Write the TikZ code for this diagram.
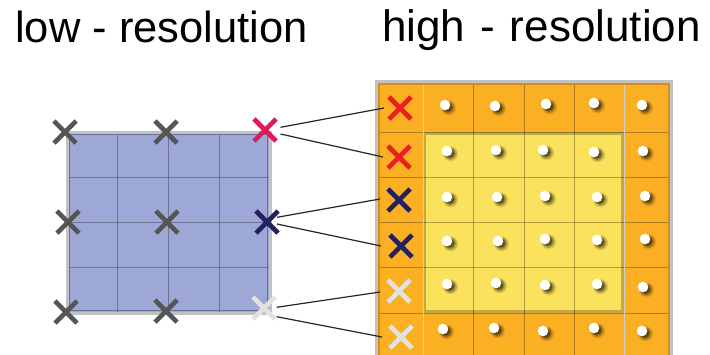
\documentclass[tikz,border=0pt]{standalone}
\usepackage{fontspec}
\setmainfont{Liberation Sans}
\usetikzlibrary{shapes.misc,calc}
\definecolor{lowblue}{HTML}{9DA8D6}
\definecolor{lowedge}{HTML}{66709A}
\definecolor{frameg}{HTML}{C2C2C2}
\definecolor{orangeA}{HTML}{FBB023}
\definecolor{orangeD}{HTML}{D38D1A}
\definecolor{yellowA}{HTML}{FAE25C}
\definecolor{yellowD}{HTML}{C3A845}
\definecolor{xgray}{HTML}{555555}
\definecolor{xcrimson}{HTML}{DC1C5A}
\definecolor{xred}{HTML}{EE1C25}
\definecolor{xnavy}{HTML}{24215F}
\definecolor{xlight}{HTML}{E2E2E2}
\definecolor{shad}{HTML}{2A2008}
\begin{document}
\begin{tikzpicture}[x=1pt,y=-1pt,
  xmark/.style={cross out, draw=#1, line width=4.6pt, minimum size=17.5pt, inner sep=0pt},
  link/.style={draw=black!85, line width=1.2pt},
  title/.style={anchor=base west, inner sep=0pt, font=\fontsize{44}{50}\selectfont},
  gridln/.style={draw=black, draw opacity=0.3, line width=0.8pt}]
\clip (0,0) rectangle (710,354);
\fill[white] (0,0) rectangle (710,354);

% titles
\node[title, font=\fontsize{43.5}{50}\selectfont] (tlow) at (15,42) {low - resolution};
\node[title] (thigh) at (382,41) {high\kern15pt-\kern15pt resolution};

% ---------- low resolution square
\fill[lowblue] (67,132) rectangle (270,313);
\foreach \x in {117.75,168.5,219.25} \draw[gridln] (\x,132) -- (\x,313);
\foreach \y in {177.25,222.5,267.75} \draw[gridln] (67,\y) -- (270,\y);
\draw[frameg, line width=3pt] (67,132) rectangle (270,313);
\draw[lowedge, line width=1.6pt] (69.5,134.5) rectangle (267.5,310.5);

\node[xmark=xgray] (l11) at (65,132) {};
\node[xmark=xgray] (l12) at (166,132) {};
\node[xmark=xcrimson] (l13) at (265,130) {};
\node[xmark=xgray] (l21) at (68,222) {};
\node[xmark=xgray] (l22) at (167,222) {};
\node[xmark=xnavy] (l23) at (267,222) {};
\node[xmark=xgray] (l31) at (66,312) {};
\node[xmark=xgray] (l32) at (166,311) {};
\node[xmark=xlight] (l33) at (264,308) {};

% ---------- high resolution grid
\fill[orangeA] (375,81) rectangle (673,370);
\fill[yellowA] (423,132) rectangle (624,313);
\draw[yellowD, line width=3pt] (424.5,133.5) rectangle (622.5,311.5);
\foreach \x in {473,524,574} \draw[gridln] (\x,82) -- (\x,360);
\foreach \y in {132,177,222,267,313} \draw[gridln] (375,\y) -- (673,\y);
\foreach \x in {423,624} \draw[frameg!80!white, line width=1pt] (\x,82) -- (\x,360);
\draw[frameg, line width=3pt] (376,81.5) rectangle (671.5,370);
\draw[orangeD, line width=2pt] (378.5,84) rectangle (669,370);

% dots with soft shadows
\foreach \px/\py in {
  445/105, 495/106, 546/104, 594/103, 642/105,
  447/151, 496/150, 543/150, 594/152, 643/151,
  447/197, 497/197, 545/196, 597/197, 645/196,
  447/241, 498/241, 545/239, 597/240, 645/239,
  447/284, 496/283, 545/285, 597/284, 643/287,
  443/329, 494/328, 543/331, 594/328, 642/331}{
  \fill[shad, opacity=0.12] (\px+3.6,\py+2.8) circle (7.6);
  \fill[shad, opacity=0.20] (\px+3.3,\py+2.6) circle (6.5);
  \fill[shad, opacity=0.32] (\px+3.0,\py+2.4) circle (5.5);
  \fill[shad, opacity=0.45] (\px+2.6,\py+2.0) circle (4.6);
  \fill[white] (\px,\py) circle (5.3);
}

\node[xmark=xred] (h1) at (400,108) {};
\node[xmark=xred] (h2) at (399,157) {};
\node[xmark=xnavy] (h3) at (399,200) {};
\node[xmark=xnavy] (h4) at (401,246) {};
\node[xmark=xlight] (h5) at (399,291) {};
\node[xmark=xlight] (h6) at (401,337) {};

% ---------- connectors
\draw[link] ($(l13)+(15.5,-2.7)$) -- ($(h1)+(-16,0)$);
\draw[link] ($(l13)+(15.5,4)$) -- ($(h2)+(-16,0)$);
\draw[link] ($(l23)+(10,-4.7)$) -- ($(h3)+(-19,-1)$);
\draw[link] ($(l23)+(10,2)$) -- ($(h4)+(-20,0)$);
\draw[link] ($(l33)+(12.7,-0.7)$) -- ($(h5)+(-19,1)$);
\draw[link] ($(l33)+(12.7,8.7)$) -- ($(h6)+(-19,0)$);
\end{tikzpicture}
\end{document}
